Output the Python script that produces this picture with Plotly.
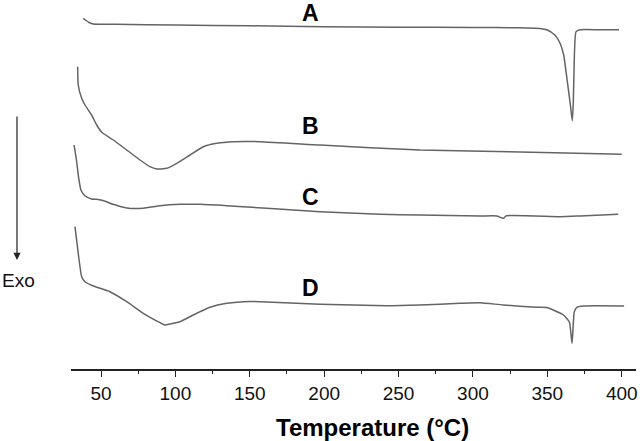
import plotly.graph_objects as go

# Temperature (°C) and heat flow (arbitrary units, curves stacked)
temp_a = [38.1, 40, 42, 44.8, 60, 100, 150, 200, 250, 300, 330, 345, 350, 355, 358.5, 361, 363.3, 365.5, 366.8, 367.5, 368, 369.3, 372, 385, 398.2]
flow_a = [35.07, 34.85, 34.65, 34.5, 34.47, 34.4, 34.32, 34.23, 34.18, 34.15, 34.12, 34.05, 33.9, 33.4, 32.6, 31.4, 28.9, 26.4, 24.83, 26.9, 30.2, 33.73, 33.93, 33.93, 33.93]

temp_b = [34.3, 34.7, 37.0, 39.2, 43.7, 47.1, 50.5, 58.3, 67.3, 76.2, 82.9, 87.4, 94.2, 100.9, 109.8, 118.8, 127.8, 138.9, 156.9, 197.2, 264.4, 331.6, 400]
flow_b = [30.23, 28.4, 27.07, 26.4, 25.4, 24.4, 23.67, 22.9, 21.9, 20.9, 20.23, 20.0, 20.07, 20.57, 21.4, 22.23, 22.57, 22.73, 22.73, 22.4, 21.9, 21.7, 21.47]

temp_c = [31.9, 33.5, 35, 36.5, 39.2, 43.7, 47.1, 53.8, 56, 67.3, 78.4, 89.7, 103.1, 116.5, 134.5, 161.4, 197.2, 237.5, 264.4, 304.8, 316, 320.4, 322.5, 358.5, 372, 397.7]
flow_c = [22.4, 20.9, 19.1, 17.9, 17.33, 17.0, 16.97, 16.73, 16.57, 16.1, 16.07, 16.33, 16.47, 16.47, 16.33, 16.07, 15.73, 15.47, 15.4, 15.3, 15.3, 15.07, 15.32, 15.23, 15.3, 15.47]

temp_d = [32.5, 34.7, 37, 39.2, 44.8, 56, 67.3, 78.4, 89.7, 93, 96.4, 103.1, 112, 123.3, 134.5, 145.7, 156.9, 197.2, 242, 264.4, 291.3, 304.8, 320.4, 342.9, 349.6, 354, 360.8, 364.8, 366.6, 368.1, 369.8, 374.2, 401.6]
flow_d = [14.23, 11.57, 9.23, 8.73, 8.3, 7.73, 6.73, 5.57, 4.63, 4.4, 4.5, 4.73, 5.4, 6.17, 6.57, 6.73, 6.73, 6.47, 6.33, 6.4, 6.57, 6.63, 6.4, 6.17, 6.15, 5.9, 5.4, 4.7, 2.57, 5.7, 6.17, 6.3, 6.3]

curve_labels = ["A", "B", "C", "D"]
label_temp = 190.5
label_flow = [35.65, 24.3, 17.2, 8.1]

tick_vals = [50, 100, 150, 200, 250, 300, 350, 400]

FONT = "Arial, Liberation Sans, sans-serif"
LINE = "#646464"

fig = go.Figure()
for t, f in [(temp_a, flow_a), (temp_b, flow_b), (temp_c, flow_c), (temp_d, flow_d)]:
    fig.add_trace(go.Scatter(x=t, y=f, mode="lines",
                             line=dict(color=LINE, width=1.5, shape="spline", smoothing=0.5),
                             showlegend=False, hoverinfo="skip"))

for lab, yv in zip(curve_labels, label_flow):
    fig.add_annotation(x=label_temp, y=yv, xref="x", yref="y", text="<b>%s</b>" % lab,
                       showarrow=False, font=dict(family=FONT, size=23, color="#000"),
                       xanchor="center", yanchor="middle")

# Exo arrow (pointing down) and label
fig.add_annotation(x=-0.0956, y=(369 - 260) / 369, xref="paper", yref="paper",
                   ax=0, ay=-145, axref="pixel", ayref="pixel", text="",
                   showarrow=True, arrowhead=2, arrowsize=1.2, arrowwidth=1.2,
                   arrowcolor="#222")
fig.add_annotation(x=-0.126, y=(369 - 280) / 369, xref="paper", yref="paper",
                   text="Exo", showarrow=False, xanchor="left", yanchor="middle",
                   font=dict(family=FONT, size=19, color="#111"))

# Axis title
fig.add_annotation(x=(372 - 71) / 565, y=(369 - 427) / 369, xref="paper", yref="paper",
                   text="<b>Temperature (°C)</b>", showarrow=False,
                   xanchor="center", yanchor="middle",
                   font=dict(family=FONT, size=24, color="#000"))

fig.update_layout(
    width=640, height=441,
    margin=dict(l=71, r=4, t=0, b=72),
    paper_bgcolor="white", plot_bgcolor="white",
    xaxis=dict(range=[29.83, 409.6], tickvals=tick_vals, ticks="outside", ticklen=6,
               tickwidth=1.3, tickcolor="#222", showline=True, linecolor="#222",
               linewidth=1.5, showgrid=False, zeroline=False,
               tickfont=dict(family=FONT, size=19, color="#111"),
               minor=dict(tickvals=[75, 125, 175, 225, 275, 325, 375], ticks="outside",
                          ticklen=3, tickwidth=1.2, tickcolor="#222", showgrid=False)),
    yaxis=dict(range=[0, 36.9], visible=False, showgrid=False, zeroline=False),
)

fig.write_html("out.html", config={"displayModeBar": False},
               post_script="document.body.style.margin='0';document.body.style.overflow='hidden';")
